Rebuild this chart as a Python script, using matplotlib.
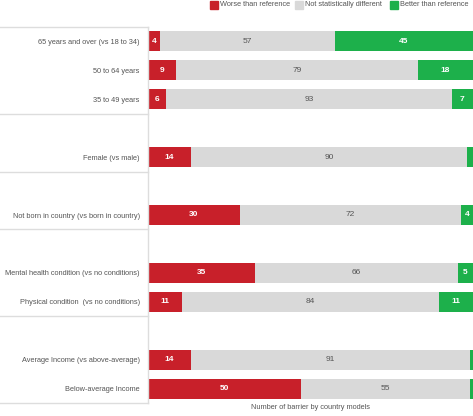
import matplotlib.pyplot as plt
from matplotlib.patches import Rectangle

plt.rcParams['font.family'] = ['Liberation Sans Narrow', 'Liberation Sans', 'DejaVu Sans']

labels = ['65 years and over (vs 18 to 34)', '50 to 64 years', '35 to 49 years',
          'Female (vs male)', 'Not born in country (vs born in country)',
          'Mental health condition (vs no conditions)', 'Physical condition  (vs no conditions)',
          'Average Income (vs above-average)', 'Below-average Income']
worse = [4, 9, 6, 14, 30, 35, 11, 14, 50]
same = [57, 79, 93, 90, 72, 66, 84, 91, 55]
better = [45, 18, 7, 2, 4, 5, 11, 1, 1]
show_better = [True, True, True, False, True, True, True, False, False]

# row slots, groups separated by an empty slot
pos = [0, 1, 2, 4, 6, 8, 9, 11, 12]
seps = [-0.5, 2.5, 4.5, 6.5, 9.5, 12.5]

red = '#c8202a'
grey = '#d9d9d9'
green = '#1db04b'
txt = '#555555'
fs = 5.3

W, H = 473, 416
fig = plt.figure(figsize=(W / 100, H / 100), dpi=100)
ax = fig.add_axes([148 / W, 1 - 403 / H, 1 - 148 / W, (403 - 27) / H])

h = 20 / 29
left2 = [a + b for a, b in zip(worse, same)]
ax.barh(pos, worse, height=h, color=red)
ax.barh(pos, same, left=worse, height=h, color=grey)
ax.barh(pos, better, left=left2, height=h, color=green)

for i, y in enumerate(pos):
    ax.text(worse[i] / 2, y, str(worse[i]), ha='center', va='center',
            color='white', fontsize=6, fontweight='bold')
    ax.text(worse[i] + same[i] / 2, y, str(same[i]), ha='center', va='center',
            color=txt, fontsize=6)
    if show_better[i]:
        ax.text(left2[i] + better[i] / 2, y, str(better[i]), ha='center', va='center',
                color='white', fontsize=6, fontweight='bold')

ax.set_xlim(0, 106)
ax.set_ylim(12.5, -0.5)
ax.set_yticks(pos)
ax.set_yticklabels(labels, fontsize=fs, color=txt)
ax.tick_params(axis='y', length=0, pad=6)
ax.set_xticks([])
for s in ['top', 'right', 'bottom']:
    ax.spines[s].set_visible(False)
ax.spines['left'].set_color('#dddddd')
ax.spines['left'].set_linewidth(1)

tr = ax.get_yaxis_transform()
for y in seps:
    ax.plot([-148 / 325, 0], [y, y], color='#dddddd', lw=1, transform=tr, clip_on=False)

ax.set_xlabel('Number of barrier by country models', fontsize=fs, color=txt, labelpad=1)

# legend along the top
items = [(210, red, 'Worse than reference'),
         (295, grey, 'Not statistically different'),
         (390, green, 'Better than reference')]
for x, c, t in items:
    fig.patches.append(Rectangle((x / W, 1 - 9 / H), 8 / W, 8 / H, color=c,
                                 transform=fig.transFigure))
    fig.text((x + 10) / W, 1 - 5 / H, t, fontsize=fs, color=txt, va='center')

fig.savefig('out.png', dpi=100)
